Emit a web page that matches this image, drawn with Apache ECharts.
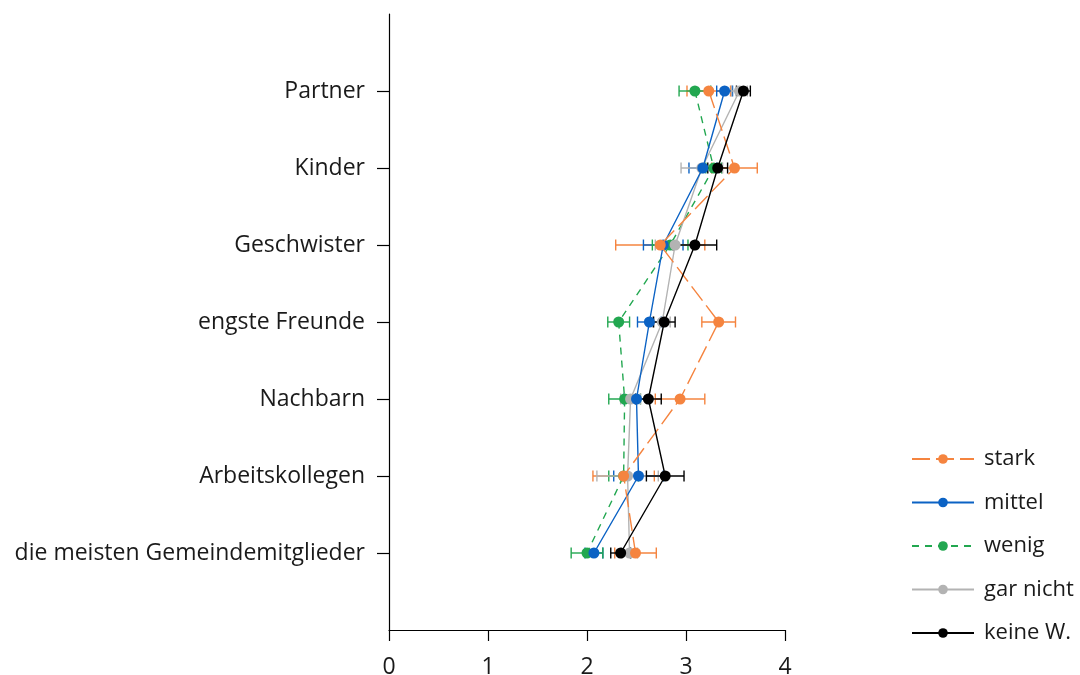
<!DOCTYPE html>
<html>
<head>
<meta charset="utf-8">
<script src="https://cdn.jsdelivr.net/npm/echarts@6/dist/echarts.min.js"></script>
<style>html,body{margin:0;padding:0;background:#fff}#c{width:1080px;height:675px}</style>
</head>
<body>
<div id="c"></div>
<script>
// categories, top to bottom
const categories = ['Partner', 'Kinder', 'Geschwister', 'engste Freunde', 'Nachbarn', 'Arbeitskollegen', 'die meisten Gemeindemitglieder'];
const xTicks = [0, 1, 2, 3, 4];
const seriesNames = ['stark', 'mittel', 'wenig', 'gar nicht', 'keine W.'];

const starkMean   = [3.23, 3.49, 2.74, 3.33, 2.94, 2.37, 2.49];
const starkErr    = [0.22, 0.23, 0.45, 0.17, 0.25, 0.31, 0.21];
const mittelMean  = [3.39, 3.17, 2.77, 2.63, 2.50, 2.52, 2.07];
const mittelErr   = [0.08, 0.14, 0.20, 0.12, 0.13, 0.25, 0.09];
const wenigMean   = [3.09, 3.28, 2.84, 2.32, 2.38, 2.37, 2.00];
const wenigErr    = [0.16, 0.08, 0.18, 0.11, 0.16, 0.15, 0.16];
const garMean     = [3.54, 3.16, 2.89, 2.76, 2.44, 2.41, 2.43];
const garErr      = [0.08, 0.21, 0.20, 0.08, 0.10, 0.31, 0.08];
const keineMean   = [3.58, 3.32, 3.09, 2.78, 2.62, 2.79, 2.34];
const keineErr    = [0.07, 0.10, 0.22, 0.11, 0.13, 0.19, 0.10];

const means = [starkMean, mittelMean, wenigMean, garMean, keineMean];
const errs = [starkErr, mittelErr, wenigErr, garErr, keineErr];
const colors = ['#F5843F', '#0B62C4', '#22A750', '#B3B3B3', '#000000'];
const lineTypes = [[18, 6], 'solid', [7, 6], 'solid', 'solid'];
const layer = [6, 5, 3, 4, 7];

// y axis: padding slots at both ends, bottom-to-top order
const yCats = [''].concat(categories.slice().reverse()).concat(['']);

const FONT = 'Open Sans';
const series = [];
means.forEach((m, si) => {
  const errData = m.map((v, i) => [v - errs[si][i], v + errs[si][i], categories[i]]);
  series.push({
    name: seriesNames[si] + '_err',
    type: 'custom',
    z: 2,
    silent: true,
    renderItem: function (params, api) {
      const cat = api.value(2);
      const a = api.coord([api.value(0), cat]);
      const b = api.coord([api.value(1), cat]);
      const h = 5.5;
      const st = { stroke: colors[si], lineWidth: 1.4 };
      return {
        type: 'group',
        children: [
          { type: 'line', shape: { x1: a[0], y1: a[1], x2: b[0], y2: b[1] }, style: st },
          { type: 'line', shape: { x1: a[0], y1: a[1] - h, x2: a[0], y2: a[1] + h }, style: st },
          { type: 'line', shape: { x1: b[0], y1: b[1] - h, x2: b[0], y2: b[1] + h }, style: st }
        ]
      };
    },
    encode: { x: [0, 1], y: 2 },
    data: errData
  });
});
means.forEach((m, si) => {
  series.push({
    name: seriesNames[si],
    type: 'line',
    z: layer[si],
    symbol: 'circle',
    symbolSize: 11,
    showSymbol: true,
    color: colors[si],
    lineStyle: { color: colors[si], width: 1.4, type: lineTypes[si] },
    itemStyle: { color: colors[si] },
    data: m.map((v, i) => [v, categories[i]])
  });
});

const chart = echarts.init(document.getElementById('c'), null, { renderer: 'canvas' });
chart.setOption({
  animation: false,
  backgroundColor: '#ffffff',
  textStyle: { fontFamily: FONT },
  grid: { left: 389, right: 295, top: 14, bottom: 45, containLabel: false, outerBoundsMode: 'none' },
  xAxis: {
    type: 'value',
    min: xTicks[0],
    max: xTicks[xTicks.length - 1],
    interval: 1,
    splitLine: { show: false },
    axisLine: { show: true, lineStyle: { color: '#000', width: 1.2 } },
    axisTick: { show: true, length: 11, lineStyle: { color: '#000', width: 1.2 } },
    axisLabel: { fontSize: 23, color: '#1a1a1a', margin: 26, fontFamily: FONT }
  },
  yAxis: {
    type: 'category',
    data: yCats,
    boundaryGap: false,
    axisLine: { show: true, lineStyle: { color: '#000', width: 1.2 } },
    axisTick: {
      show: true, length: 12,
      interval: function (idx) { return idx > 0 && idx < yCats.length - 1; },
      lineStyle: { color: '#000', width: 1.2 }
    },
    axisLabel: { fontSize: 23, color: '#1a1a1a', margin: 24, fontFamily: FONT, interval: 0 },
    splitLine: { show: false }
  },
  legend: {
    data: seriesNames,
    orient: 'vertical',
    left: 906,
    top: 443,
    itemWidth: 62,
    itemHeight: 12,
    itemGap: 21.5,
    textStyle: { fontSize: 22, color: '#1a1a1a', fontFamily: FONT, lineHeight: 20, padding: [0, 0, 0, 5] },
    selectedMode: false
  },
  series: series
});
</script>
</body>
</html>
